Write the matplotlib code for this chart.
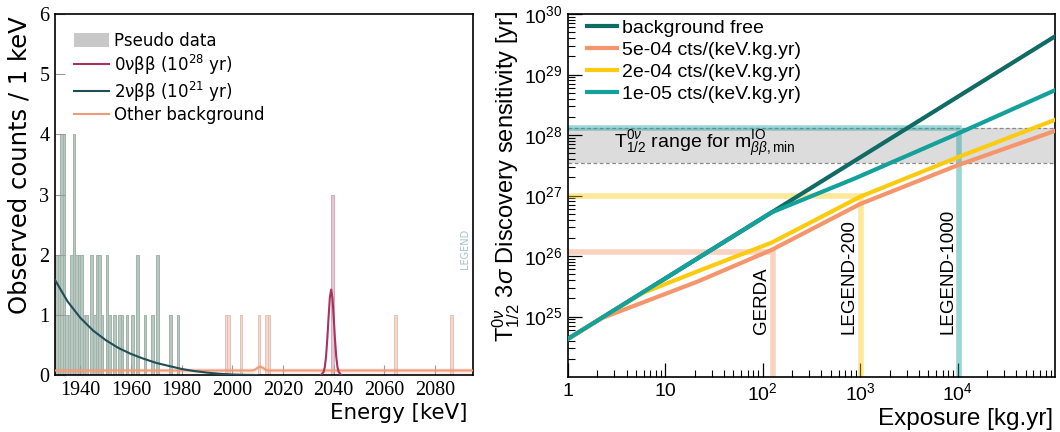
import numpy as np
import matplotlib
matplotlib.use('Agg')
import matplotlib.pyplot as plt
from matplotlib.patches import Patch
from matplotlib.lines import Line2D
from matplotlib.font_manager import FontProperties
from matplotlib.ticker import FixedLocator, FuncFormatter, LogLocator, NullFormatter, LogFormatterMathtext

plt.rcParams['mathtext.fontset'] = 'custom'
plt.rcParams['mathtext.rm'] = 'Liberation Sans'
plt.rcParams['mathtext.it'] = 'Liberation Sans:italic'
plt.rcParams['mathtext.bf'] = 'Liberation Sans:bold'

# ---------------- pseudo data (1 keV bins, left edges) ----------------
bin_lo = [1930, 1931, 1932, 1933, 1934, 1935, 1936, 1937, 1938, 1939,
          1940, 1941, 1942, 1944, 1945, 1946, 1947, 1948, 1950, 1951,
          1953, 1955, 1956, 1958, 1960, 1962, 1965, 1968, 1970, 1975,
          1978, 1997, 1998, 2003, 2010, 2013, 2014, 2039, 2064, 2086]
bin_counts = [2, 2, 4, 4, 1, 1, 2, 4, 2, 2,
              2, 1, 1, 2, 1, 2, 2, 1, 2, 1,
              1, 1, 1, 1, 1, 2, 1, 1, 2, 1,
              1, 1, 1, 1, 1, 1, 1, 3, 1, 1]

# model components
e_2nu = [1930, 1935, 1940, 1945, 1950, 1955, 1960, 1965, 1970, 1975,
         1980, 1985, 1990, 1995, 2000, 2005, 2010]
n_2nu = [1.58, 1.22, 0.95, 0.74, 0.58, 0.45, 0.35, 0.27, 0.20, 0.15,
         0.10, 0.065, 0.04, 0.02, 0.008, 0.002, 0.0]

e_0nu = [2035, 2036, 2036.5, 2037, 2037.5, 2038, 2038.5, 2039,
         2039.5, 2040, 2040.5, 2041, 2041.5, 2042, 2043]
n_0nu = [0.0, 0.05, 0.13, 0.31, 0.61, 0.97, 1.29, 1.42,
         1.29, 0.97, 0.61, 0.31, 0.13, 0.05, 0.0]

e_bkg = [1930, 2008, 2009, 2010, 2011, 2012, 2013, 2014, 2095]
n_bkg = [0.075, 0.075, 0.09, 0.12, 0.14, 0.12, 0.09, 0.075, 0.075]
bkg_halfwidth = 0.045

# ---------------- discovery sensitivity vs exposure ----------------
exp_bkgfree = [1, 1e5]
t_bkgfree = [4.27e24, 4.27e29]

exp_5e4 = [1, 2.2, 21.6, 123, 1e3, 1e4, 1e5]
t_5e4 = [4.27e24, 9.33e24, 3.8e25, 1.26e26, 7.24e26, 3.16e27, 1.17e28]

exp_2e4 = [1, 5.68, 21.6, 123, 1e3, 1e4, 1e5]
t_2e4 = [4.27e24, 2.4e25, 5.62e25, 1.66e26, 9.55e26, 4.27e27, 1.78e28]

exp_1e5 = [1, 123, 871, 1e4, 1e5]
t_1e5 = [4.27e24, 5.25e26, 1.9e27, 1.05e28, 5.5e28]

io_range = [3.5e27, 1.29e28]

experiments = ['GERDA', 'LEGEND-200', 'LEGEND-1000']
exp_exposure = [127, 1010, 1.04e4]
exp_sensitivity = [1.18e26, 1.0e27, 1.29e28]

# ---------------- figure ----------------
fig = plt.figure(figsize=(10.6, 4.32), dpi=100)
ax = fig.add_axes([55/1060, 1-375/432, 418/1060, 361/432])
ax2 = fig.add_axes([568/1060, 1-377/432, 487/1060, 363/432])

c_2nu, c_0nu, c_bkg = '#1f4e57', '#a8325e', '#ef9a78'
fills = ['#b7c8c0', '#f6d9cc', '#e9c3cf']
edges = ['#a2b3ab', '#e2c2b4', '#d6abba']

centers = np.array(bin_lo) + 0.5
comp = np.argmax([np.interp(centers, e_2nu, n_2nu, right=0),
                  np.interp(centers, e_bkg, n_bkg),
                  np.interp(centers, e_0nu, n_0nu, left=0, right=0)], axis=0)
ax.bar(bin_lo, bin_counts, width=1, align='edge',
       color=[fills[c] for c in comp], edgecolor=[edges[c] for c in comp], linewidth=0.7, zorder=1)

nb = np.array(n_bkg)
ax.fill_between(e_bkg, nb - bkg_halfwidth, nb + bkg_halfwidth, color=c_bkg, alpha=0.2, lw=0, zorder=2)
ax.plot(e_bkg, n_bkg, color=c_bkg, lw=1.5, zorder=3)
ax.plot(e_2nu, n_2nu, color=c_2nu, lw=1.5, zorder=4)
ax.plot(e_0nu, n_0nu, color=c_0nu, lw=1.5, zorder=4)

ax.set_xlim(1930, 2095)
ax.set_ylim(0, 6)
ax.set_xticks(range(1940, 2081, 20))
ax.set_yticks(range(0, 7))
ax.tick_params(direction='in', length=7, width=0.8, color='#999999', pad=4)
for lab in ax.get_xticklabels() + ax.get_yticklabels():
    lab.set_fontfamily('Liberation Serif')
    lab.set_fontsize(14.5)
for s in ax.spines.values():
    s.set_linewidth(1.2)

ax.text(0.988, -0.106, 'Energy [keV]', transform=ax.transAxes, ha='right', va='center', fontsize=15.4)
fig.text(20/1060, 1-16/432, 'Observed counts / 1 keV', rotation=90, ha='center', va='top', fontsize=17.5)
ax.text(2092, 2.1, 'LEGEND', rotation=90, color='#a9c2c2', fontsize=7, ha='center', va='center')

lp = FontProperties(family='DejaVu Sans', size=12, math_fontfamily='dejavusans')
handles = [Patch(facecolor='#c8c8c8', edgecolor='none'),
           Line2D([], [], color=c_0nu, lw=1.5),
           Line2D([], [], color=c_2nu, lw=1.5),
           Line2D([], [], color=c_bkg, lw=1.5)]
labels = ['Pseudo data', '0νββ (10$^{28}$ yr)', '2νββ (10$^{21}$ yr)', 'Other background']
ax.legend(handles, labels, loc='upper left', bbox_to_anchor=(0.045, 0.95), frameon=False,
          prop=lp, handlelength=2.1, handleheight=0.9, handletextpad=0.3, labelspacing=0.16,
          borderpad=0, borderaxespad=0)

# ---------------- right panel ----------------
xlim = (1, 1e5)
ylim = (1e24, 1e30)
ax2.set_xscale('log')
ax2.set_yscale('log')
ax2.set_xlim(*xlim)
ax2.set_ylim(*ylim)

ax2.fill_between(xlim, io_range[0], io_range[1], color='#dcdcdc', lw=0, zorder=0)
for v in io_range:
    ax2.axhline(v, color='#8a8a8a', lw=0.9, ls=(0, (3, 2)), zorder=1)

c_free, c_5e4, c_2e4, c_1e5 = '#0f6b64', '#f5956b', '#fbcb10', '#14a09b'
for name, ex, ts, c in zip(experiments, exp_exposure, exp_sensitivity, [c_5e4, c_2e4, c_1e5]):
    ax2.plot([xlim[0], ex, ex], [ts, ts, ylim[0]], color=c, alpha=0.42, lw=4, zorder=2,
             solid_joinstyle='miter', solid_capstyle='butt')
    ax2.text(ex * 0.93, 5.2e24, name, rotation=90, ha='right', va='bottom',
             fontsize=13.5, family='Liberation Sans', zorder=5)

ax2.text(3.0, 7.2e27, r'$\mathrm{T}^{0\nu}_{1/2}$ range for $\mathrm{m}^{\mathrm{IO}}_{\beta\beta,\mathrm{min}}$',
         fontsize=14, family='Liberation Sans', va='center', zorder=5)

ax2.plot(exp_bkgfree, t_bkgfree, color=c_free, lw=3, zorder=3, label='background free')
ax2.plot(exp_5e4, t_5e4, color=c_5e4, lw=3, zorder=3, label='5e-04 cts/(keV.kg.yr)')
ax2.plot(exp_2e4, t_2e4, color=c_2e4, lw=3, zorder=3, label='2e-04 cts/(keV.kg.yr)')
ax2.plot(exp_1e5, t_1e5, color=c_1e5, lw=3, zorder=3, label='1e-05 cts/(keV.kg.yr)')

ax2.legend(loc='upper left', bbox_to_anchor=(0.038, 0.985), frameon=False,
           prop=FontProperties(family='Liberation Sans', size=14),
           handlelength=1.55, handletextpad=0.3, labelspacing=0.22, borderpad=0, borderaxespad=0)

ax2.xaxis.set_major_locator(FixedLocator([1, 10, 100, 1e3, 1e4]))
ax2.xaxis.set_major_formatter(FuncFormatter(
    lambda v, p: '1' if v < 5 else ('10' if v < 50 else r'$10^{%d}$' % round(np.log10(v)))))
ax2.xaxis.set_minor_locator(LogLocator(base=10, subs=np.arange(2, 10), numticks=20))
ax2.xaxis.set_minor_formatter(NullFormatter())
ax2.yaxis.set_major_locator(FixedLocator([1e25, 1e26, 1e27, 1e28, 1e29, 1e30]))
ax2.yaxis.set_major_formatter(LogFormatterMathtext())
ax2.yaxis.set_minor_locator(LogLocator(base=10, subs=np.arange(2, 10), numticks=20))
ax2.yaxis.set_minor_formatter(NullFormatter())
ax2.tick_params(which='major', direction='in', length=10, width=0.9, labelsize=14, pad=4)
ax2.tick_params(which='minor', direction='in', length=5, width=0.8)
for lab in ax2.get_xticklabels() + ax2.get_yticklabels():
    lab.set_fontfamily('Liberation Sans')
for s in ax2.spines.values():
    s.set_linewidth(1.2)

fig.text(1053/1060, 1-419/432, 'Exposure [kg.yr]', ha='right', va='center', fontsize=17.5, family='Liberation Sans')
fig.text(506/1060, 1-11/432, r'$\mathrm{T}^{0\nu}_{1/2}$ 3$\sigma$ Discovery sensitivity [yr]',
         rotation=90, ha='center', va='top', fontsize=17, family='Liberation Sans')

fig.savefig('out.png', dpi=100)
